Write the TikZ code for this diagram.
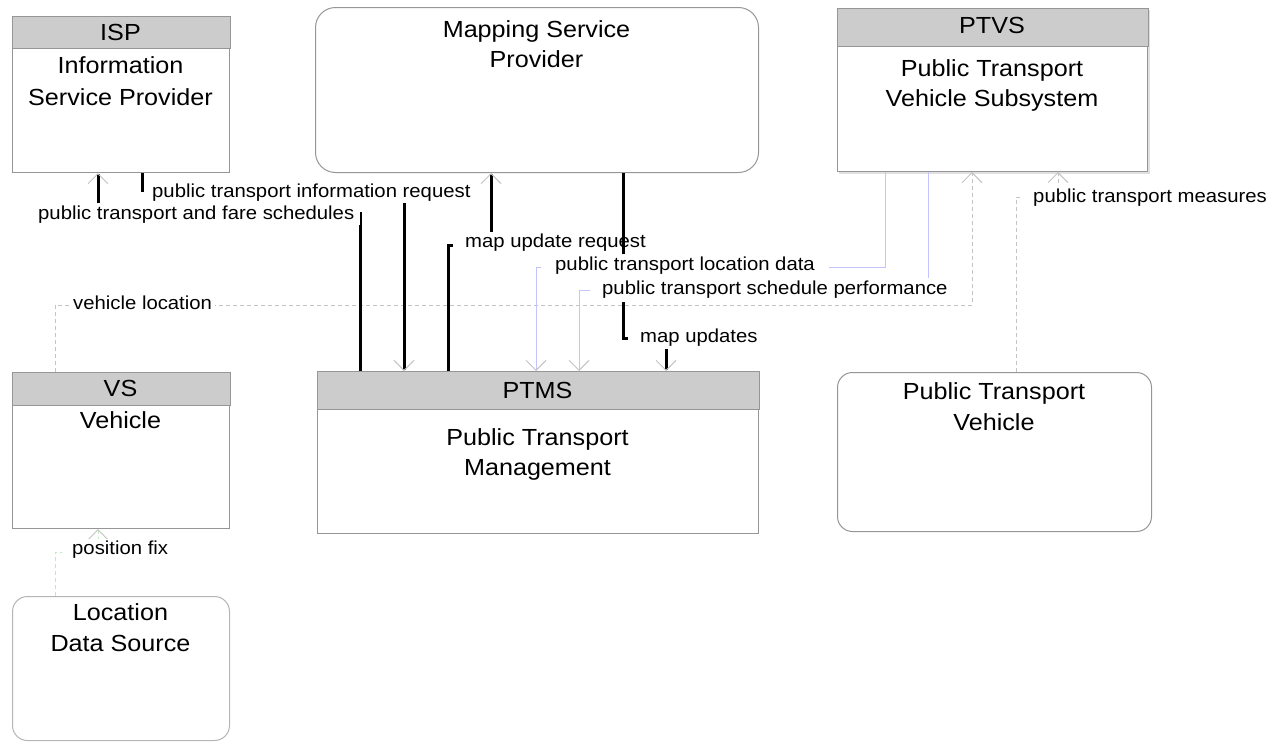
\documentclass[tikz,border=0pt]{standalone}
\usepackage{fontspec}
\setmainfont{Liberation Sans}[FakeStretch=1.08]
\usetikzlibrary{arrows.meta}
\definecolor{boxline}{RGB}{150,150,150}
\definecolor{hdr}{RGB}{204,204,204}
\definecolor{arrgray}{RGB}{195,195,195}
\definecolor{dashgray}{RGB}{195,195,195}
\definecolor{flowblue}{RGB}{195,195,255}
\definecolor{flowgreen}{RGB}{195,230,195}
\begin{document}
\begin{tikzpicture}[x=1pt,y=-1pt,
  box/.style={draw=boxline, line width=1pt, fill=white, inner sep=0pt, anchor=north west},
  hdrbar/.style={draw=boxline, line width=1pt, fill=hdr},
  boxtxt/.style={font=\fontsize{23.3}{28}\selectfont, anchor=base, inner sep=0pt},
  lbl/.style={font=\fontsize{18.8}{22}\selectfont, anchor=base west, fill=white, inner xsep=3pt, inner ysep=2pt, text height=14pt, text depth=4pt},
  tip/.style={-{Straight Barb[length=10pt,width=20pt,line width=1pt,color=arrgray]}},
  blk/.style={line width=3pt, black, tip},
  dsh/.style={line width=1pt, dashgray, dash pattern=on 4pt off 3pt, tip},
  grn/.style={line width=1pt, flowgreen, dash pattern=on 4pt off 3pt, tip},
  blu/.style={line width=1pt, flowblue, tip}]
\useasboundingbox (0,0) rectangle (1269,750);

% ---------- boxes ----------
\node[box, minimum width=217pt, minimum height=156pt] (isp) at (12,16) {};
\draw[hdrbar] (isp.north west) rectangle ([yshift=-32pt]isp.north east);
\node[boxtxt] (isp-a) at (120.5,40) {ISP};
\node[boxtxt] (isp-b) at (120.5,73.5) {Information};
\node[boxtxt] (isp-c) at (120.5,105) {Service Provider};

\node[box, rounded corners=20pt, minimum width=443pt, minimum height=165pt] (msp) at (315,7) {};
\node[boxtxt] (msp-a) at (536.5,37) {Mapping Service};
\node[boxtxt] (msp-b) at (536.5,67) {Provider};

\draw[line width=1.5pt, black!12] (839,173) -- (1149,173) -- (1149,10);
\node[box, minimum width=310pt, minimum height=163pt] (ptvs) at (837,8) {};
\draw[hdrbar] (ptvs.north west) rectangle ([yshift=-38pt]ptvs.north east);
\node[boxtxt] (ptvs-a) at (992,33) {PTVS};
\node[boxtxt] (ptvs-b) at (992,76.7) {Public Transport};
\node[boxtxt] (ptvs-c) at (992,106.7) {Vehicle Subsystem};

\node[box, minimum width=217pt, minimum height=156pt] (vs) at (12,372) {};
\draw[hdrbar] (vs.north west) rectangle ([yshift=-33pt]vs.north east);
\node[boxtxt] (vs-a) at (120.5,396.5) {VS};
\node[boxtxt] (vs-b) at (120.5,428.5) {Vehicle};

\node[box, rounded corners=15pt, minimum width=217pt, minimum height=144pt, draw=boxline!70] (lds) at (12,596) {};
\node[boxtxt] (lds-a) at (120.5,620) {Location};
\node[boxtxt] (lds-b) at (120.5,651) {Data Source};

\node[box, minimum width=441pt, minimum height=162pt] (ptms) at (317,371) {};
\draw[hdrbar] (ptms.north west) rectangle ([yshift=-38pt]ptms.north east);
\node[boxtxt] (ptms-a) at (537.5,398) {PTMS};
\node[boxtxt] (ptms-b) at (537.5,445) {Public Transport};
\node[boxtxt] (ptms-c) at (537.5,475) {Management};

\node[box, rounded corners=15pt, minimum width=314pt, minimum height=159pt] (ptv) at (837,372) {};
\node[boxtxt] (ptv-a) at (994,399) {Public Transport};
\node[boxtxt] (ptv-b) at (994,430) {Vehicle};

% ---------- bend points ----------
\coordinate (vl1) at (55,305);   \coordinate (vl2) at (972,305);
\coordinate (me1) at (1016,197); \coordinate (me2) at (1058,197);
\coordinate (pf1) at (55,552);   \coordinate (pf2) at (98,552);
\coordinate (fs1) at (360,213);  \coordinate (fs2) at (98,213);
\coordinate (ir1) at (142,190);  \coordinate (ir2) at (404,190);
\coordinate (mr1) at (448,245);  \coordinate (mr2) at (491,245);
\coordinate (mu1) at (623,338);  \coordinate (mu2) at (666,338);
\coordinate (ld1) at (885,267);  \coordinate (ld2) at (536,267);
\coordinate (sp1) at (928,290);  \coordinate (sp2) at (579,290);

% ---------- dashed flows ----------
\draw[dsh] (vs.north -| vl1) -- (vl1) -- (vl2) -- (ptvs.south -| vl2);
\node[lbl] (l-vl) at (70,309.5) {vehicle location};

\draw[dsh] (ptv.north -| me1) -- (me1) -- (me2) -- (ptvs.south -| me2);
\node[lbl, inner xsep=11pt] (l-me) at (1022,202) {public transport measures};

\draw[grn] (lds.north -| pf1) -- (pf1) -- (pf2) -- (vs.south -| pf2);
\node[lbl, inner xsep=10pt] (l-pf) at (62,554.5) {position fix};

% ---------- black flows ----------
\draw[blk] (ptms.north -| fs1) -- (fs1) -- (fs2) -- (isp.south -| fs2);
\node[lbl, inner xsep=6pt] (l-fs) at (32,219) {public transport and fare schedules};

\draw[blk] (isp.south -| ir1) -- (ir1) -- (ir2) -- (ptms.north -| ir2);
\node[lbl, inner xsep=8pt] (l-ir) at (144,197) {public transport information request};

\draw[blk] (ptms.north -| mr1) -- (mr1) -- (mr2) -- (msp.south -| mr2);
\node[lbl, inner xsep=12pt] (l-mr) at (453,247.5) {map update request};

\draw[blk] (msp.south -| mu1) -- (mu1) -- (mu2) -- (ptms.north -| mu2);
\node[lbl, inner xsep=12pt] (l-mu) at (628,342.5) {map updates};

% ---------- blue flows ----------
\draw[blu] (ptvs.south -| ld1) -- (ld1) -- (ld2) -- (ptms.north -| ld2);
\node[lbl, inner ysep=3pt, inner xsep=14pt] (l-ld) at (541,270.5) {public transport location data};

\draw[blu] (ptvs.south -| sp1) -- (sp1) -- (sp2) -- (ptms.north -| sp2);
\node[lbl, inner ysep=3pt, inner xsep=12pt] (l-sp) at (590,294.5) {public transport schedule performance};
\end{tikzpicture}
\end{document}
